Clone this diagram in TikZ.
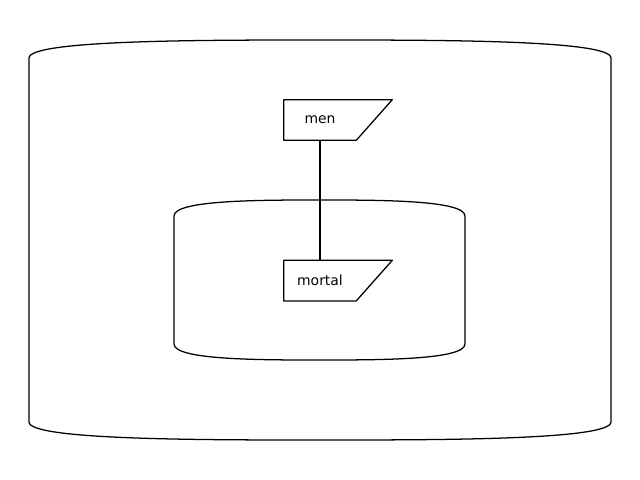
\documentclass[tikz,border=0pt]{standalone}
\usepackage{fontspec}
\setmainfont{DejaVu Sans}
\usetikzlibrary{positioning}
\tikzstyle{data} = [rectangle, minimum width=1.8cm, minimum height=1cm, inner sep=0pt, text centered, font=\fontsize{9.9}{12}\selectfont]
\tikzstyle{outline} = [line width=0.9pt, line join=round]
\tikzstyle{line} = [line width=0.9pt]
% can-shaped frame: left, top, right, bottom, rim, half width of the flat part
\newcommand{\drawcan}[6]{
	\draw [outline] (#1,#2+#5) .. controls (#1,#2) and (#1+#6,#2) .. ({(#1+#3)/2},#2)
		.. controls (#3-#6,#2) and (#3,#2) .. (#3,#2+#5) -- (#3,#4-#5)
		.. controls (#3,#4) and (#3-#6,#4) .. ({(#1+#3)/2},#4)
		.. controls (#1+#6,#4) and (#1,#4) .. (#1,#4-#5) -- cycle;
}
\begin{document}
\begin{tikzpicture}[x=0.025cm, y=-0.025cm]
	\useasboundingbox (0,0) rectangle (640,480);
	\drawcan{29}{40}{611}{440}{18}{171}
	\drawcan{174}{200}{465}{360}{16}{86}
	\node (men) [data] at (320,120) {men};
	\node (mortal) [data, below = 3cm of men] {mortal};
	\foreach \n in {men, mortal}
		\draw [outline] (\n.south west) -- (\n.north west) -- ([xshift=0.9cm]\n.north east) -- (\n.south east) -- cycle;
	\draw [line] (men) -- (mortal);
\end{tikzpicture}
\end{document}
